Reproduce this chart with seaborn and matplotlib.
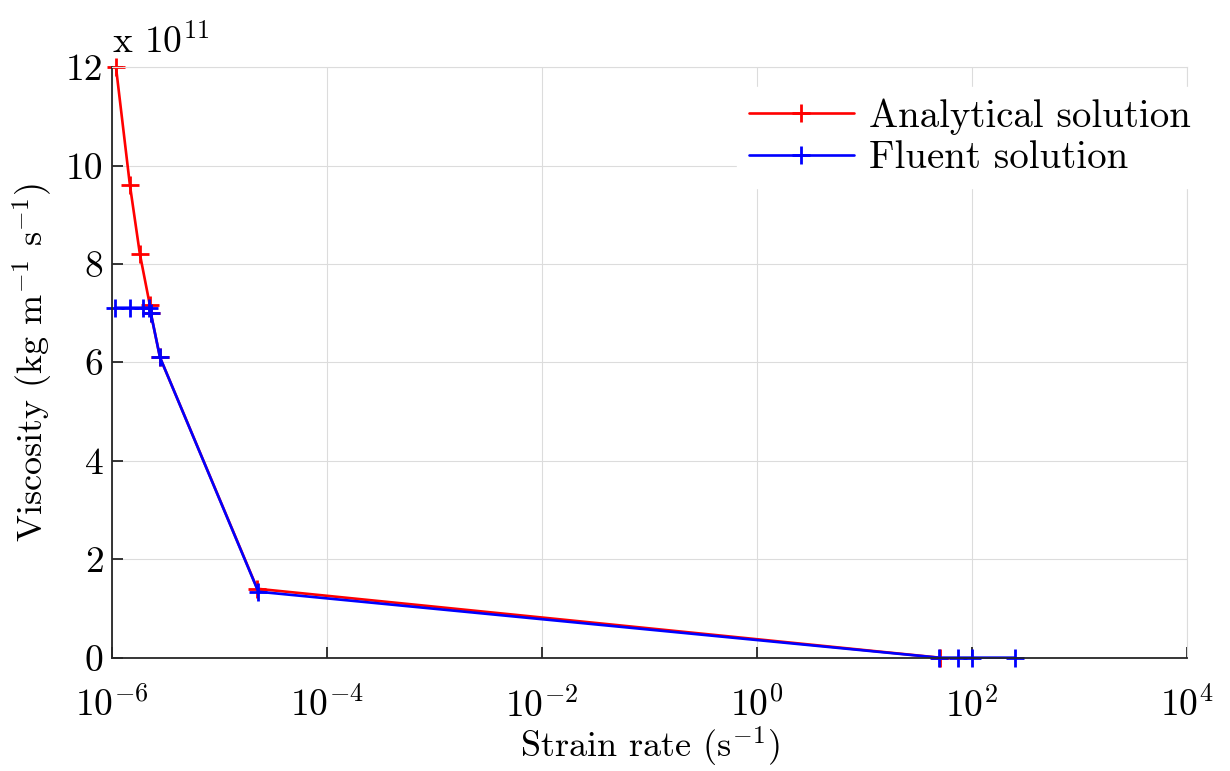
import numpy as np
import pandas as pd
import seaborn as sns
import matplotlib.pyplot as plt

# Data (viscosity in units of 1e11 kg m^-1 s^-1)
analytical_rate = [1.09e-6, 1.47e-6, 1.82e-6, 2.25e-6, 2.3e-6, 2.8e-6, 2.25e-5, 50]
analytical_visc = [12.0, 9.6, 8.2, 7.17, 7.0, 6.1, 1.4, 0.0]
fluent_rate = [1.07e-6, 1.47e-6, 1.94e-6, 2.2e-6, 2.3e-6, 2.8e-6, 2.3e-5, 49, 74, 100, 251]
fluent_visc = [7.11, 7.11, 7.11, 7.11, 7.0, 6.1, 1.34, 0.0, 0.0, 0.0, 0.0]

xtick_vals = [1e-6, 1e-4, 1e-2, 1e0, 1e2, 1e4]
xtick_labels = ["$10^{-6}$", "$10^{-4}$", "$10^{-2}$", "$10^{0}$", "$10^{2}$", "$10^{4}$"]
ytick_vals = [0, 2, 4, 6, 8, 10, 12]

sns.set_style("whitegrid")
plt.rcParams["font.family"] = ["cmr10", "DejaVu Serif"]
plt.rcParams["mathtext.fontset"] = "cm"
plt.rcParams["axes.formatter.use_mathtext"] = True

df_a = pd.DataFrame({"rate": analytical_rate, "visc": analytical_visc})
df_f = pd.DataFrame({"rate": fluent_rate, "visc": fluent_visc})

fig = plt.figure(figsize=(12.3, 7.71), dpi=100)
ax = fig.add_axes([0.091, 0.147, 0.874, 0.766])

sns.lineplot(data=df_a, x="rate", y="visc", ax=ax, color="#ff0000", marker="+",
             markersize=13, markeredgewidth=2.0, markeredgecolor="#ff0000",
             linewidth=1.9, sort=False, estimator=None, clip_on=False,
             label="Analytical solution")
sns.lineplot(data=df_f, x="rate", y="visc", ax=ax, color="#0000ff", marker="+",
             markersize=13, markeredgewidth=2.0, markeredgecolor="#0000ff",
             linewidth=1.9, sort=False, estimator=None, clip_on=False,
             label="Fluent solution")

ax.set_xscale("log")
ax.set_xlim(1e-6, 1e4)
ax.set_ylim(0, 12)
ax.set_xticks(xtick_vals)
ax.set_xticklabels(xtick_labels)
ax.minorticks_off()
ax.set_yticks(ytick_vals)
ax.set_yticklabels([str(v) for v in ytick_vals])

ax.grid(True, color="#dcdcdc", linewidth=0.8)
for side in ["top", "right"]:
    ax.spines[side].set_color("#dcdcdc")
    ax.spines[side].set_linewidth(0.8)
for side in ["left", "bottom"]:
    ax.spines[side].set_color("#262626")
    ax.spines[side].set_linewidth(1.3)

ax.tick_params(axis="both", direction="in", length=8, width=1.3, color="#262626",
               labelsize=27, labelcolor="black", left=True, bottom=True)
ax.tick_params(axis="x", pad=21)
ax.tick_params(axis="y", pad=6)

ax.set_xlabel("Strain rate (s$^{-1}$)", fontsize=26, labelpad=1, color="black")
ax.set_ylabel("Viscosity (kg m$^{-1}$ s$^{-1}$)", fontsize=26, labelpad=8, color="black")
ax.text(0.0, 1.012, "x 10$^{11}$", transform=ax.transAxes, fontsize=27,
        ha="left", va="bottom", color="black")

leg = ax.legend(loc="upper right", bbox_to_anchor=(1.033, 1.0), fontsize=28,
                frameon=True, facecolor="white", edgecolor="white", framealpha=1,
                handlelength=2.7, handletextpad=0.4, borderpad=0.3,
                labelspacing=0.15, fancybox=False, labelcolor="black")

fig.savefig("out.png", dpi=100)
